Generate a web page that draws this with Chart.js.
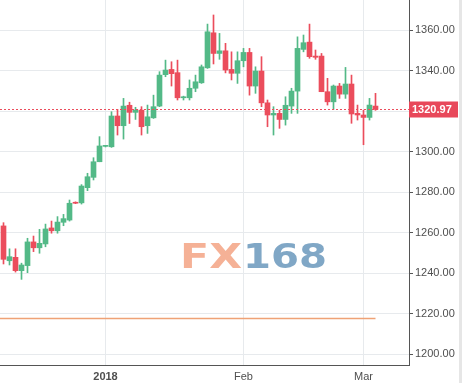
<!DOCTYPE html>
<html>
<head>
<meta charset="utf-8">
<script src="https://cdn.jsdelivr.net/npm/chart.js@4.4.1/dist/chart.umd.min.js"></script>
<style>
  html, body { margin: 0; padding: 0; background: #fff; }
  canvas { display: block; }
</style>
</head>
<body>
<canvas id="goldChart" width="462" height="383"></canvas>
<script>
// Daily candles, Dec 2017 - Mar 2018
const days = [
  '2017-12-07', '2017-12-08', '2017-12-11', '2017-12-12', '2017-12-13', '2017-12-14', '2017-12-15',
  '2017-12-18', '2017-12-19', '2017-12-20', '2017-12-21', '2017-12-22', '2017-12-25', '2017-12-26',
  '2017-12-27', '2017-12-28', '2017-12-29', '2018-01-01', '2018-01-02', '2018-01-03', '2018-01-04',
  '2018-01-05', '2018-01-08', '2018-01-09', '2018-01-10', '2018-01-11', '2018-01-12', '2018-01-15',
  '2018-01-16', '2018-01-17', '2018-01-18', '2018-01-19', '2018-01-22', '2018-01-23', '2018-01-24',
  '2018-01-25', '2018-01-26', '2018-01-29', '2018-01-30', '2018-01-31', '2018-02-01', '2018-02-02',
  '2018-02-05', '2018-02-06', '2018-02-07', '2018-02-08', '2018-02-09', '2018-02-12', '2018-02-13',
  '2018-02-14', '2018-02-15', '2018-02-16', '2018-02-19', '2018-02-20', '2018-02-21', '2018-02-22',
  '2018-02-23', '2018-02-26', '2018-02-27', '2018-02-28', '2018-03-01', '2018-03-02', '2018-03-05'
];
const opens = [
  1263.4, 1246.2, 1247.9, 1241.3, 1243.8, 1255.5, 1252.6, 1254.5, 1262.4, 1261.0, 1265.2, 1266.3, 1274.9, 1274.8,
  1282.3, 1287.4, 1295.1, 1302.7, 1302.5, 1317.7, 1312.9, 1323.0, 1319.5, 1320.6, 1312.9, 1316.8, 1322.6, 1338.1,
  1340.7, 1339.1, 1326.7, 1326.7, 1331.4, 1334.1, 1341.5, 1358.8, 1348.6, 1349.9, 1340.7, 1338.8, 1345.0, 1349.1,
  1332.5, 1339.9, 1324.2, 1318.2, 1319.0, 1316.0, 1322.6, 1330.0, 1350.6, 1354.2, 1347.3, 1347.3, 1329.7, 1324.7,
  1332.5, 1328.5, 1333.5, 1319.0, 1318.2, 1317.0, 1322.6
];
const highs = [
  1265.0, 1252.1, 1252.1, 1245.0, 1257.3, 1258.4, 1261.7, 1264.3, 1265.8, 1268.0, 1269.1, 1276.2, 1275.3, 1283.8,
  1289.4, 1297.1, 1307.5, 1303.2, 1319.8, 1321.0, 1326.4, 1324.5, 1322.0, 1322.3, 1323.1, 1328.0, 1339.6, 1345.3,
  1344.5, 1345.3, 1327.5, 1335.5, 1337.9, 1342.9, 1363.1, 1367.6, 1358.5, 1353.6, 1349.4, 1349.4, 1351.1, 1351.1,
  1342.0, 1347.0, 1325.6, 1322.3, 1320.6, 1327.2, 1331.4, 1356.8, 1357.7, 1363.1, 1350.3, 1348.6, 1336.3, 1333.0,
  1333.8, 1341.7, 1337.9, 1323.1, 1320.6, 1326.4, 1328.9
];
const lows = [
  1244.6, 1244.1, 1240.6, 1237.0, 1240.3, 1250.7, 1249.9, 1253.1, 1259.8, 1259.8, 1263.5, 1265.8, 1274.4, 1274.2,
  1280.8, 1286.1, 1295.1, 1302.4, 1302.2, 1308.3, 1306.3, 1314.0, 1316.0, 1308.3, 1309.1, 1316.5, 1322.3, 1337.1,
  1332.5, 1325.6, 1325.6, 1325.6, 1329.7, 1333.8, 1341.2, 1343.4, 1345.7, 1339.0, 1335.5, 1333.8, 1342.0, 1328.0,
  1328.9, 1322.3, 1312.4, 1308.3, 1311.6, 1313.2, 1319.0, 1319.0, 1349.4, 1346.2, 1345.7, 1329.7, 1323.1, 1321.0,
  1326.4, 1326.4, 1314.1, 1315.7, 1303.5, 1315.7, 1320.5
];
const closes = [
  1246.9, 1248.2, 1241.3, 1244.1, 1255.5, 1252.6, 1254.8, 1261.9, 1261.0, 1265.3, 1267.0, 1274.6, 1274.6, 1283.1,
  1287.7, 1295.1, 1302.9, 1302.9, 1317.7, 1312.9, 1322.6, 1319.5, 1320.6, 1312.4, 1317.3, 1322.3, 1337.9, 1340.4,
  1338.6, 1326.7, 1327.2, 1331.4, 1334.6, 1342.0, 1359.3, 1348.6, 1349.9, 1340.4, 1338.8, 1345.0, 1349.1, 1332.5,
  1339.9, 1324.2, 1318.2, 1319.0, 1316.0, 1323.0, 1330.0, 1351.1, 1353.9, 1347.0, 1346.7, 1329.7, 1324.7, 1332.5,
  1328.5, 1333.5, 1318.7, 1318.2, 1317.0, 1323.1, 1320.97
];
// orange level line near the bottom
const lowerLevel = 1217.7;

const yTicks = [1200, 1220, 1240, 1260, 1280, 1300, 1320, 1340, 1360];
const xTickDays = ['2018-01-01', '2018-02-01', '2018-03-01'];
const xTickText = ['2018', 'Feb', 'Mar'];

const upColor = '#53b987';
const downColor = '#eb4d5c';
const tickColor = '#4f4f4f';

const idx = days.map((d, i) => i + 1);
const candleColors = opens.map((o, i) => closes[i] >= o ? upColor : downColor);
const bodies = idx.map((x, i) => ({ x: x, y: [opens[i], closes[i]] }));
const wicks = idx.map((x, i) => ({ x: x, y: [lows[i], highs[i]] }));
const levelLine = [0].concat(idx).map(x => ({ x: x, y: lowerLevel }));
const xTickIdx = xTickDays.map(d => days.indexOf(d) + 1);
const lastClose = closes[closes.length - 1];

// sem padding extra dos rótulos nas bordas
function noPad(s) {
  s.paddingTop = 0; s.paddingBottom = 0; s.paddingLeft = 0; s.paddingRight = 0;
}

// watermark, price line and price tag
const extras = {
  id: 'extras',
  beforeDatasetsDraw(chart) {
    const c = chart.ctx;
    c.save();
    c.font = 'bold 34px "DejaVu Sans"';
    const part = (text, color, left, width) => {
      const w = c.measureText(text).width;
      c.save();
      c.translate(left, 268);
      c.scale(width / w, 1);
      c.fillStyle = color;
      c.fillText(text, 0, 0);
      c.restore();
    };
    part('FX', '#f5b196', 180, 62);
    part('168', '#80a7c6', 243, 84);
    c.restore();
  },
  afterDraw(chart) {
    const c = chart.ctx;
    const area = chart.chartArea;
    const y = Math.round(chart.scales.y.getPixelForValue(lastClose)) + 0.5;
    c.save();
    c.strokeStyle = downColor;
    c.lineWidth = 1;
    c.setLineDash([2, 2]);
    c.beginPath();
    c.moveTo(area.left, y);
    c.lineTo(area.right, y);
    c.stroke();
    c.setLineDash([]);
    c.fillStyle = '#e8485a';
    c.fillRect(area.right, y - 8, 49, 16);
    c.fillStyle = '#fff';
    c.font = 'bold 11px "Liberation Sans"';
    c.textBaseline = 'middle';
    c.fillText(lastClose.toFixed(2), area.right + 3, y + 0.5);
    c.fillStyle = '#e6e6e6';
    c.fillRect(459, 0, 3, chart.height);
    c.restore();
  }
};

const ctx = document.getElementById('goldChart').getContext('2d');

const chart = new Chart(ctx, {
  type: 'bar',
  data: {
    datasets: [
      {
        type: 'line', data: levelLine, borderColor: '#efa276', borderWidth: 1.5,
        pointRadius: 0, order: 3
      },
      {
        data: wicks, backgroundColor: candleColors, barThickness: 1,
        grouped: false, order: 2, borderWidth: 0
      },
      {
        data: bodies, backgroundColor: candleColors, barThickness: 5,
        grouped: false, order: 1, borderWidth: 0, minBarLength: 1
      }
    ]
  },
  options: {
    responsive: false,
    animation: false,
    devicePixelRatio: 1,
    layout: { padding: 0 },
    plugins: { legend: { display: false }, tooltip: { enabled: false } },
    scales: {
      x: {
        type: 'linear',
        offset: false,
        min: 1 - 3.5 / 6,
        max: 1 - 3.5 / 6 + 409 / 6,
        afterFit: s => { s.height = 18; noPad(s); },
        afterBuildTicks: s => { s.ticks = xTickIdx.map(v => ({ value: v })); },
        grid: { color: '#e7eaed', drawTicks: false, offset: false },
        border: { display: true, color: '#555' },
        ticks: {
          autoSkip: false, maxRotation: 0, padding: 5, color: tickColor,
          font: c => ({ family: 'Liberation Sans', size: 11, weight: c.index === 0 ? 'bold' : 'normal' }),
          callback: v => xTickText[xTickIdx.indexOf(v)]
        }
      },
      y: {
        position: 'right',
        min: 1194.7,
        max: 1375,
        afterFit: s => { s.width = 53; noPad(s); },
        afterBuildTicks: s => { s.ticks = yTicks.map(v => ({ value: v })); },
        grid: { color: '#e7eaed', tickLength: 4, tickColor: '#555' },
        border: { display: true, color: '#555' },
        ticks: {
          padding: 2, color: tickColor,
          font: { family: 'Liberation Sans', size: 11 },
          callback: v => v.toFixed(2)
        }
      }
    }
  },
  plugins: [extras]
});
</script>
</body>
</html>
